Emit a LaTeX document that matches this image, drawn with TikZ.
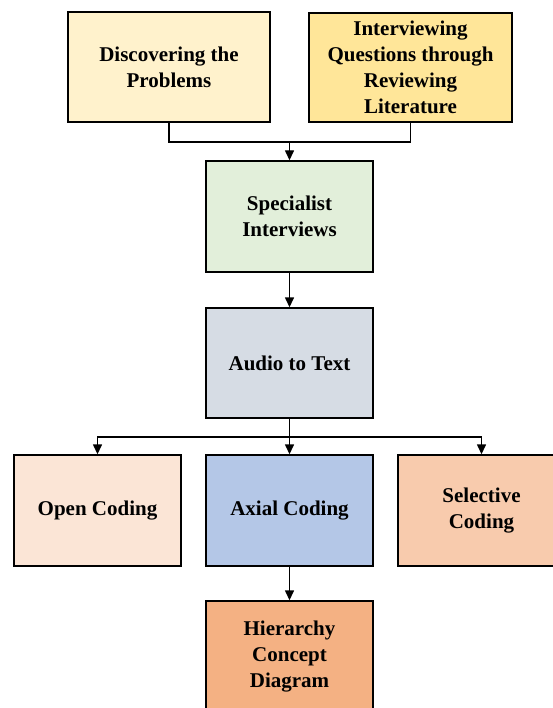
\documentclass[tikz,border=0pt]{standalone}
\usepackage{fontspec}
\setmainfont{Liberation Serif}
\usetikzlibrary{arrows.meta}
\definecolor{cA}{HTML}{FFF2CC}
\definecolor{cB}{HTML}{FFE699}
\definecolor{cC}{HTML}{E2EFDA}
\definecolor{cD}{HTML}{D6DCE4}
\definecolor{cE}{HTML}{FBE5D6}
\definecolor{cF}{HTML}{B4C7E7}
\definecolor{cG}{HTML}{F8CBAD}
\definecolor{cH}{HTML}{F4B183}
\tikzset{
  box/.style={draw=black, line width=1.4pt, inner sep=0pt, align=center,
    minimum width=167pt, minimum height=111pt,
    font=\fontsize{21}{26}\selectfont\bfseries},
  arr/.style={line width=1.4pt, -{Triangle[length=10pt,width=9pt]}},
  ln/.style={line width=1.4pt}
}
\begin{document}
\begin{tikzpicture}[x=1pt,y=-1pt]
\useasboundingbox (0,0) rectangle (553,708);
\clip (0,0) rectangle (553,708);
\node[box, fill=cA, minimum width=202pt, minimum height=110pt] (b1) at (169,67) {Discovering the\\Problems};
\node[box, fill=cB, minimum width=203pt, minimum height=109pt] (b2) at (410.5,67.5) {Interviewing\\Questions through\\Reviewing\\Literature};
\node[box, fill=cC] (spec) at (289.5,216.5) {Specialist\\Interviews};
\node[box, fill=cD, minimum height=110pt] (audio) at (289.5,363) {Audio to Text};
\node[box, fill=cE] (open) at (97.5,510.5) {Open Coding};
\node[box, fill=cF] (axial) at (289.5,510.5) {Axial Coding};
\node[box, fill=cG] (sel) at (481.5,510.5) {Selective\\Coding};
\node[box, fill=cH] (hier) at (289.5,656.5) {Hierarchy\\Concept\\Diagram};
\coordinate (m) at (289.5,142);
\coordinate (s) at (289.5,437);
\draw[ln] (b1.south) |- (m) -| (b2.south);
\draw[arr] (m) -- (spec.north);
\draw[arr] (spec.south) -- (audio.north);
\draw[ln] (audio.south) -- (s);
\draw[arr] (s) -| (open.north);
\draw[arr] (s) -| (sel.north);
\draw[arr] (s) -- (axial.north);
\draw[arr] (axial.south) -- (hier.north);
\end{tikzpicture}
\end{document}
